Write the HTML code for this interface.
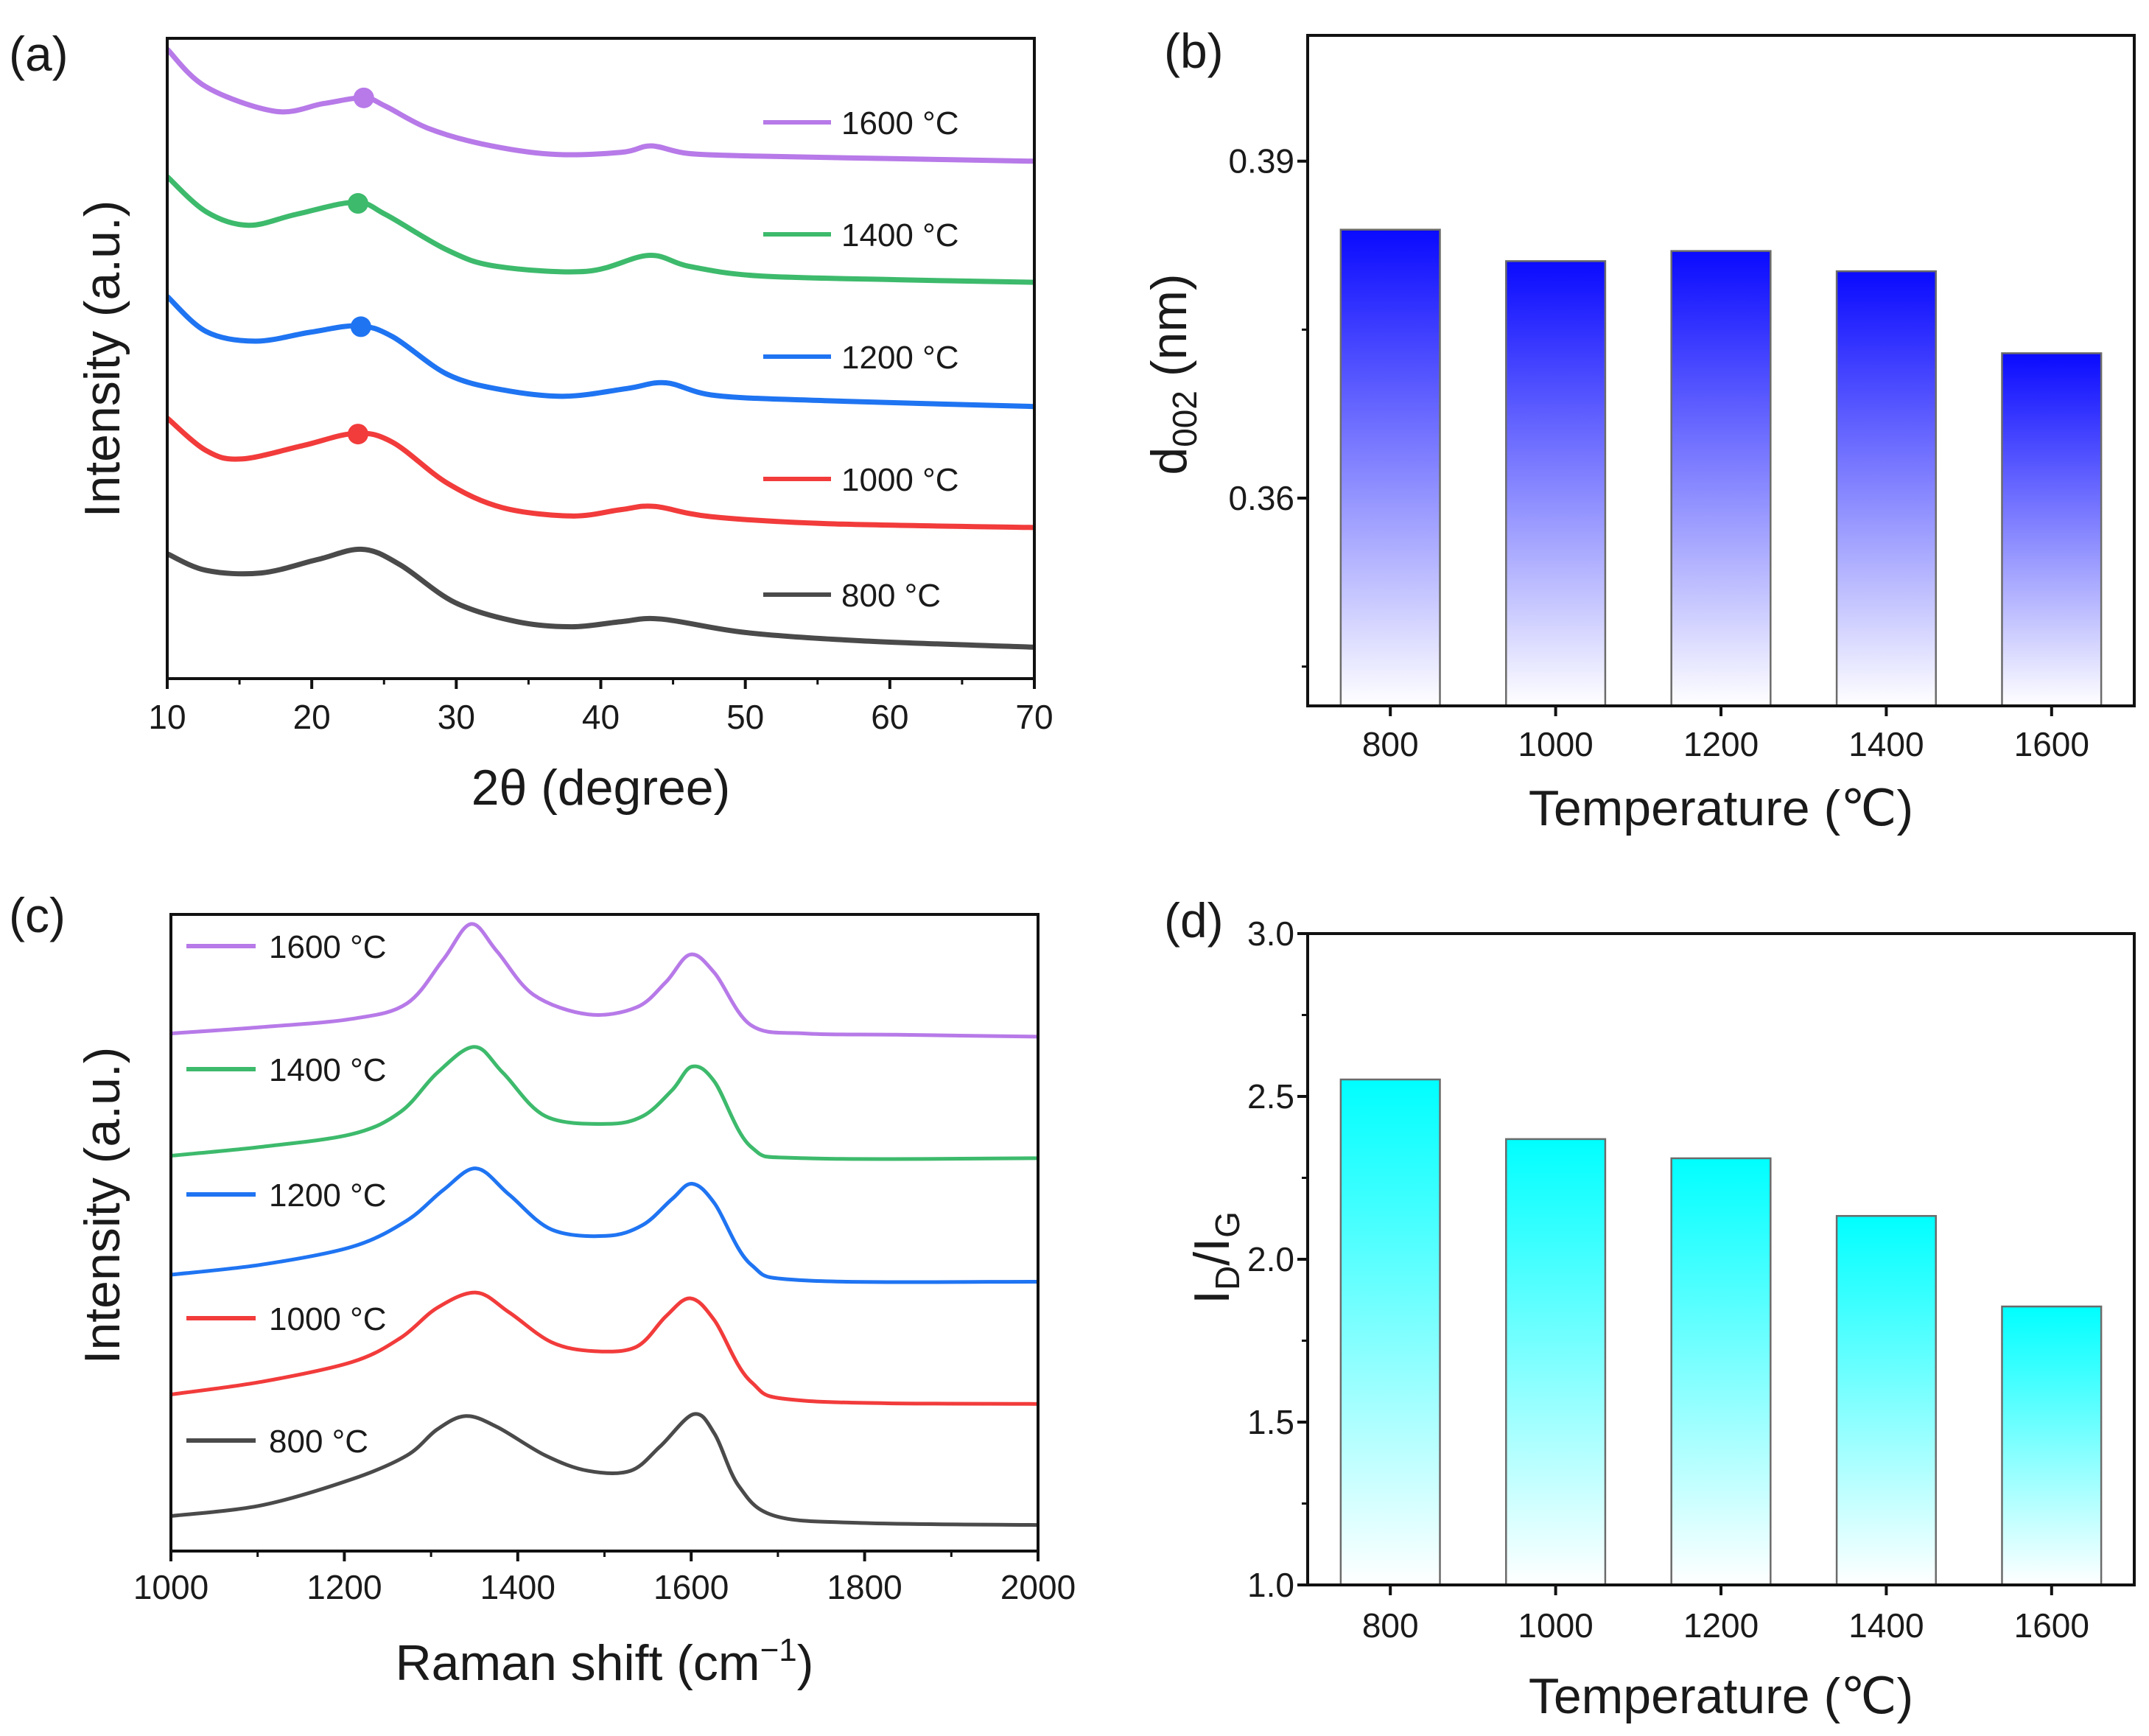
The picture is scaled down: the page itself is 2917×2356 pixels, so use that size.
<!DOCTYPE html>
<html><head><meta charset="utf-8"><style>
html,body{margin:0;padding:0;background:#fff}
svg{display:block}
text{font-family:"Liberation Sans",sans-serif;fill:#1a1a1a}
.tk{font-family:"Liberation Sans Narrow","Liberation Sans",sans-serif;font-size:46px}
.lg{font-family:"Liberation Sans Narrow","Liberation Sans",sans-serif;font-size:44px}
.tt{font-size:68px}
.pl{font-size:66px}
</style></head><body>
<svg id="fig" width="2917" height="2356" viewBox="0 0 2917 2356" xmlns="http://www.w3.org/2000/svg">
<defs>
<linearGradient id="gb" x1="0" y1="0" x2="0" y2="1"><stop offset="0" stop-color="#0a0aff"/><stop offset="1" stop-color="#ffffff"/></linearGradient>
<linearGradient id="gc" x1="0" y1="0" x2="0" y2="1"><stop offset="0" stop-color="#00ffff"/><stop offset="1" stop-color="#ffffff"/></linearGradient>
</defs>
<g id="pa"></g>
<g id="pb"></g>
<g id="pc"></g>
<g id="pd"></g>
</svg>
<script>
// ---------- data ----------
const xrdLabels = ["1600 °C","1400 °C","1200 °C","1000 °C","800 °C"];
const xrdX1600 = [10,12.7,17.5,20.8,23.6,25.1,28.0,31.8,36.6,41.4,43.5,46.1,50.9,60.5,70];
const xrdY1600 = [98.3,92.4,88.6,89.8,90.7,89.4,86.0,83.5,81.9,82.2,83.2,82.0,81.6,81.2,80.8];
const xrdX1400 = [10,12.7,15.6,18.9,23.0,25.1,29.4,32.8,39.0,43.3,46.1,50.9,60.5,70];
const xrdY1400 = [78.4,72.9,70.8,72.5,74.4,72.5,66.9,64.4,63.6,66.1,64.4,62.9,62.3,61.9];
const xrdX1200 = [10,12.7,16.1,19.9,23.2,25.6,29.4,33.2,37.5,41.8,44.5,48.0,55.7,70];
const xrdY1200 = [59.7,54.2,52.7,54.1,55.1,53.4,47.5,45.1,44.1,45.3,46.2,44.2,43.4,42.5];
const xrdX1000 = [10,12.7,15.1,19.4,23.0,25.6,29.4,33.2,38.0,41.4,43.7,47.6,55.7,70];
const xrdY1000 = [40.7,35.6,34.3,36.4,38.3,36.9,30.5,26.7,25.4,26.4,26.9,25.3,24.2,23.6];
const xrdX800 = [10,12.7,16.5,20.4,23.5,26.1,29.9,34.2,38.0,41.4,44.2,50.0,58.1,70];
const xrdY800 = [19.5,16.9,16.5,18.6,20.2,17.8,11.9,8.9,8.1,8.9,9.3,7.2,5.9,4.9];
const xrdPeak = [23.6,23.2,23.4,23.2];
const xrdTicks = [10,20,30,40,50,60,70];

const temps = [800,1000,1200,1400,1600];
const d002 = [0.3839,0.3811,0.3820,0.3802,0.3729];
const d002Ticks = [0.36,0.39];
const idig = [2.552,2.369,2.31,2.133,1.855];
const idigTicks = [1.0,1.5,2.0,2.5,3.0];

const ramX1600 = [1000,1105,1209,1272,1314,1346,1376,1418,1481,1537,1571,1599,1627,1669,1732,1836,2000];
const ramY1600 = [81.3,82.3,83.6,86.0,92.9,98.5,94.2,87.4,84.3,85.4,89.4,93.7,90.8,82.6,81.3,81.1,80.8];
const ramX1400 = [1000,1105,1209,1265,1307,1350,1383,1432,1502,1544,1578,1601,1627,1669,1732,2000];
const ramY1400 = [62.1,63.5,65.5,69.0,75.1,79.2,75.1,68.3,67.1,68.3,72.4,76.1,73.7,63.5,61.7,61.7];
const ramX1200 = [1000,1105,1209,1272,1314,1352,1390,1439,1502,1544,1578,1601,1627,1669,1732,2000];
const ramY1200 = [43.4,45.0,47.8,51.9,56.7,60.1,56.0,50.5,49.5,51.2,55.3,57.7,54.6,45.0,42.5,42.3];
const ramX1000 = [1000,1105,1209,1265,1307,1352,1390,1439,1488,1537,1571,1599,1627,1669,1732,2000];
const ramY1000 = [24.6,26.6,29.7,33.5,38.2,40.6,37.5,32.8,31.4,32.1,36.9,39.7,36.2,26.6,23.6,23.1];
const ramX800 = [1000,1105,1209,1272,1307,1340,1376,1432,1481,1530,1564,1603,1627,1655,1697,1801,2000];
const ramY800 = [5.5,7.2,11.3,15.0,19.1,21.2,19.5,15.0,12.6,12.6,16.4,21.5,18.4,10.2,5.5,4.4,4.1];
const ramTicks = [1000,1200,1400,1600,1800,2000];

const colors = ["#b77ae8","#3dba6c","#1f74f2","#f23b3b","#4a4a4a"];
// ---------- helpers ----------
const NS="http://www.w3.org/2000/svg";
function mk(parent,tag,attrs,text){const e=document.createElementNS(NS,tag);for(const k in attrs)e.setAttribute(k,attrs[k]);if(text!==undefined)e.textContent=text;parent.appendChild(e);return e;}
function lin(d0,d1,r0,r1){return v=>r0+(v-d0)/(d1-d0)*(r1-r0);}
function smooth(pts){let d="M"+pts[0][0].toFixed(1)+","+pts[0][1].toFixed(1);
 for(let i=0;i<pts.length-1;i++){const p0=pts[Math.max(0,i-1)],p1=pts[i],p2=pts[i+1],p3=pts[Math.min(pts.length-1,i+2)];
 const c1=[p1[0]+(p2[0]-p0[0])/6,p1[1]+(p2[1]-p0[1])/6],c2=[p2[0]-(p3[0]-p1[0])/6,p2[1]-(p3[1]-p1[1])/6];
 d+=" C"+c1[0].toFixed(1)+","+c1[1].toFixed(1)+" "+c2[0].toFixed(1)+","+c2[1].toFixed(1)+" "+p2[0].toFixed(1)+","+p2[1].toFixed(1);}return d;}

// ---------- panel a ----------
(function(){
const g=document.getElementById('pa');
const L=227,R=1404,T=52,B=921;
const x=lin(10,70,L,R), y=lin(0,100,B,T);
const XS=[xrdX1600,xrdX1400,xrdX1200,xrdX1000,xrdX800], YS=[xrdY1600,xrdY1400,xrdY1200,xrdY1000,xrdY800];
const legY=[166,318,484,650,807];
for(let s=0;s<5;s++){
 const pts=XS[s].map((v,i)=>[x(v),y(YS[s][i])]);
 const p=mk(g,'path',{d:smooth(pts),fill:'none',stroke:colors[s],'stroke-width':7,'stroke-linejoin':'round'});
 
 
 if(s<4){const px=xrdPeak[s];let k=0;while(k<XS[s].length-1&&XS[s][k+1]<px)k++;
  const f=(px-XS[s][k])/(XS[s][k+1]-XS[s][k]);const pv=YS[s][k]+f*(YS[s][k+1]-YS[s][k]);
  const c=mk(g,'circle',{cx:x(px),cy:y(pv),r:14,fill:colors[s]});
  
  }
 const lg=mk(g,'g',{});
 
 
 mk(lg,'line',{x1:1036,x2:1128,y1:legY[s],y2:legY[s],stroke:colors[s],'stroke-width':6});
 mk(lg,'text',{x:1142,y:legY[s]+16,class:'lg'},xrdLabels[s]);
}
mk(g,'rect',{x:L,y:T,width:R-L,height:B-T,fill:'none',stroke:'#111','stroke-width':4});
xrdTicks.forEach(v=>{mk(g,'line',{x1:x(v),x2:x(v),y1:B,y2:B+14,stroke:'#111','stroke-width':4});
 const t=mk(g,'text',{x:x(v),y:B+68,'text-anchor':'middle',class:'tk'},String(v));
 
 });
for(let v=15;v<70;v+=10)mk(g,'line',{x1:x(v),x2:x(v),y1:B,y2:B+8,stroke:'#111','stroke-width':3});
const xt=mk(g,'text',{x:(L+R)/2,y:1092,'text-anchor':'middle',class:'tt'},'2θ (degree)');

const yt=mk(g,'text',{x:0,y:0,transform:'translate(162,487) rotate(-90)','text-anchor':'middle',class:'tt'},'Intensity (a.u.)');

const pl=mk(g,'text',{x:12,y:96,class:'pl'},'(a)');

})();

// ---------- bar panels ----------
function barPanel(id,T,B,ymin,ymax,vals,ticks,grad,tickFmt,minors,ylabelFn,plabel,plY,xtY,xlY){
const g=document.getElementById(id);
const L=1775,R=2897;
const x=lin(700,1700,L,R), y=lin(ymin,ymax,B,T);
temps.forEach((t,i)=>{const r=mk(g,'rect',{x:x(t-60),y:y(vals[i]),width:x(t+60)-x(t-60),height:B-y(vals[i]),fill:'url(#'+grad+')',stroke:'#6b6b6b','stroke-width':2.5});
 
 });
mk(g,'rect',{x:L,y:T,width:R-L,height:B-T,fill:'none',stroke:'#111','stroke-width':4});
ticks.forEach(v=>{mk(g,'line',{x1:L-14,x2:L,y1:y(v),y2:y(v),stroke:'#111','stroke-width':4});
 const t=mk(g,'text',{x:L-18,y:y(v)+16,'text-anchor':'end',class:'tk'},tickFmt(v));
 });
minors.forEach(v=>mk(g,'line',{x1:L-8,x2:L,y1:y(v),y2:y(v),stroke:'#111','stroke-width':3}));
temps.forEach(t=>{mk(g,'line',{x1:x(t),x2:x(t),y1:B,y2:B+14,stroke:'#111','stroke-width':4});
 const tx=mk(g,'text',{x:x(t),y:xtY,'text-anchor':'middle',class:'tk'},String(t));
 });
const xt=mk(g,'text',{x:(L+R)/2,y:xlY,'text-anchor':'middle',class:'tt'},'Temperature (℃)');

ylabelFn(g);
const pl=mk(g,'text',{x:1580,y:plY,class:'pl'},plabel);

}
barPanel('pb',48,958,0.3415,0.4012,d002,d002Ticks,'gb',v=>v.toFixed(2),[0.345,0.375],function(g){
 const t=mk(g,'text',{transform:'translate(1610,508) rotate(-90)','text-anchor':'middle',class:'tt'});
 
 t.appendChild(document.createTextNode('d'));
 const s=document.createElementNS(NS,'tspan');s.setAttribute('font-size','46');s.setAttribute('dy','14');s.textContent='002';t.appendChild(s);
 const s2=document.createElementNS(NS,'tspan');s2.setAttribute('dy','-14');s2.textContent=' (nm)';t.appendChild(s2);
},'(b)',92,1026,1120);
barPanel('pd',1267,2151,1.0,3.0,idig,idigTicks,'gc',v=>v.toFixed(1),[1.25,1.75,2.25,2.75],function(g){
 const t=mk(g,'text',{transform:'translate(1668,1707) rotate(-90)','text-anchor':'middle',class:'tt'});
 
 t.appendChild(document.createTextNode('I'));
 const a=document.createElementNS(NS,'tspan');a.setAttribute('font-size','46');a.setAttribute('dy','14');a.textContent='D';t.appendChild(a);
 const b=document.createElementNS(NS,'tspan');b.setAttribute('dy','-14');b.textContent='/I';t.appendChild(b);
 const c=document.createElementNS(NS,'tspan');c.setAttribute('font-size','46');c.setAttribute('dy','14');c.textContent='G';t.appendChild(c);
},'(d)',1272,2222,2325);

// ---------- panel c ----------
(function(){
const g=document.getElementById('pc');
const L=232,R=1409,T=1241,B=2105;
const x=lin(1000,2000,L,R), y=lin(0,100,B,T);
const XS=[ramX1600,ramX1400,ramX1200,ramX1000,ramX800], YS=[ramY1600,ramY1400,ramY1200,ramY1000,ramY800];
const legY=[1284,1451,1621,1789,1955];
for(let s=0;s<5;s++){
 const pts=XS[s].map((v,i)=>[x(v),y(YS[s][i])]);
 const p=mk(g,'path',{d:smooth(pts),fill:'none',stroke:colors[s],'stroke-width':5,'stroke-linejoin':'round'});
 
 
 const lg=mk(g,'g',{});
 
 
 mk(lg,'line',{x1:253,x2:347,y1:legY[s],y2:legY[s],stroke:colors[s],'stroke-width':6});
 mk(lg,'text',{x:365,y:legY[s]+16,class:'lg'},xrdLabels[s]);
}
mk(g,'rect',{x:L,y:T,width:R-L,height:B-T,fill:'none',stroke:'#111','stroke-width':4});
ramTicks.forEach(v=>{mk(g,'line',{x1:x(v),x2:x(v),y1:B,y2:B+14,stroke:'#111','stroke-width':4});
 const t=mk(g,'text',{x:x(v),y:2170,'text-anchor':'middle',class:'tk'},String(v));
 });
for(let v=1100;v<2000;v+=200)mk(g,'line',{x1:x(v),x2:x(v),y1:B,y2:B+8,stroke:'#111','stroke-width':3});
const xt=mk(g,'text',{x:(L+R)/2,y:2280,'text-anchor':'middle',class:'tt'});

xt.appendChild(document.createTextNode('Raman shift (cm'));
const sp=document.createElementNS(NS,'tspan');sp.setAttribute('font-size','44');sp.setAttribute('dy','-26');sp.textContent='−1';xt.appendChild(sp);
const sp2=document.createElementNS(NS,'tspan');sp2.setAttribute('dy','26');sp2.textContent=')';xt.appendChild(sp2);
const yt=mk(g,'text',{transform:'translate(162,1636) rotate(-90)','text-anchor':'middle',class:'tt'},'Intensity (a.u.)');

const pl=mk(g,'text',{x:12,y:1265,class:'pl'},'(c)');

})();
</script>
</body></html>
